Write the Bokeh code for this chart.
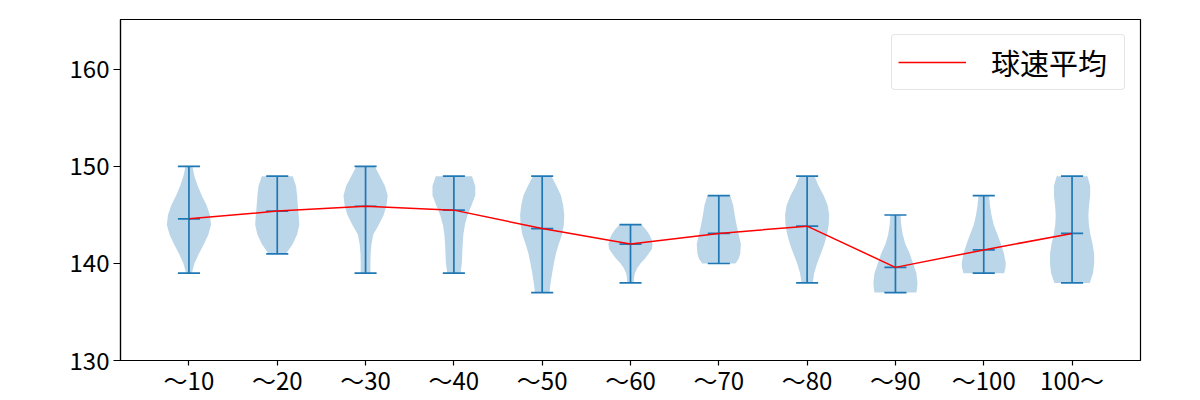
from bokeh.plotting import figure
from bokeh.models import Range1d, FixedTicker, Legend, LegendItem
from bokeh.embed import file_html
from bokeh.resources import INLINE

# ---- data ----
categories = ["〜10", "〜20", "〜30", "〜40", "〜50", "〜60", "〜70", "〜80", "〜90", "〜100", "100〜"]
v_min = [139, 141, 139, 139, 137, 138, 140, 138, 137, 139, 138]
v_max = [150, 149, 150, 149, 149, 144, 147, 149, 145, 147, 149]
v_mean = [144.6, 145.4, 145.9, 145.5, 143.6, 142.0, 143.1, 143.85, 139.6, 141.4, 143.1]
legend_label = "球速平均"

# violin outlines: speed levels and relative density (1 = widest point of that violin)
prof_speed = [
    [139, 140, 141, 142, 143, 144, 145, 146, 147, 148, 149, 150],
    [141, 142, 143, 144, 145, 146, 147, 148, 149],
    [139, 140, 141, 142, 143, 144, 145, 146, 147, 148, 149, 150],
    [139, 140, 141, 142, 143, 144, 145, 146, 147, 148, 149],
    [137, 138, 139, 140, 141, 142, 143, 144, 145, 146, 147, 148, 149],
    [138, 138.5, 139, 139.5, 140, 140.5, 141, 141.5, 142, 142.5, 143, 143.5, 144],
    [140, 140.5, 141, 142, 143, 144, 145, 146, 147],
    [138, 139, 140, 141, 142, 143, 144, 145, 146, 147, 148, 149],
    [137, 137.5, 138, 139, 140, 141, 142, 143, 144, 145],
    [139, 139.5, 140, 141, 142, 143, 144, 145, 146, 147],
    [138, 139, 140, 141, 142, 143, 144, 145, 146, 147, 148, 149],
]
prof_density = [
    [0.13, 0.25, 0.45, 0.68, 0.88, 1.0, 0.95, 0.8, 0.58, 0.4, 0.25, 0.16],
    [0.4, 0.7, 0.9, 1.0, 0.97, 0.93, 0.9, 0.85, 0.7],
    [0.22, 0.22, 0.23, 0.27, 0.35, 0.6, 0.82, 0.95, 1.0, 0.88, 0.65, 0.42],
    [0.3, 0.36, 0.38, 0.4, 0.43, 0.5, 0.62, 0.8, 0.97, 0.97, 0.82],
    [0.33, 0.38, 0.45, 0.53, 0.62, 0.75, 0.9, 0.98, 1.0, 0.95, 0.85, 0.65, 0.42],
    [0.15, 0.16, 0.2, 0.3, 0.45, 0.65, 0.82, 0.97, 1.0, 0.95, 0.85, 0.7, 0.5],
    [0.75, 0.9, 0.97, 1.0, 0.9, 0.8, 0.72, 0.65, 0.52],
    [0.25, 0.32, 0.45, 0.62, 0.78, 0.9, 0.98, 1.0, 0.93, 0.75, 0.52, 0.34],
    [0.95, 0.98, 1.0, 0.95, 0.8, 0.65, 0.45, 0.33, 0.26, 0.23],
    [0.92, 0.98, 1.0, 0.92, 0.78, 0.62, 0.45, 0.35, 0.28, 0.24],
    [0.8, 0.95, 1.0, 1.0, 0.93, 0.83, 0.76, 0.74, 0.77, 0.82, 0.82, 0.7],
]

# ---- styling ----
FONT = "Noto Sans CJK JP"
BLUE = "#1f77b4"
HALF_W = 0.25   # max half-width of a violin (x units)
CAP = 0.125     # half-length of caps

positions = list(range(1, len(categories) + 1))

p = figure(width=1200, height=400, output_backend="svg", toolbar_location=None,
           x_range=Range1d(0.225, 11.775), y_range=Range1d(130, 165.15),
           min_border_left=120, min_border_right=60, min_border_top=19, min_border_bottom=40)
p.background_fill_color = "white"
p.border_fill_color = "white"
p.outline_line_color = "black"
p.outline_line_width = 1.2
p.xgrid.visible = False
p.ygrid.visible = False

# violins
xs, ys = [], []
for pos, sp, de in zip(positions, prof_speed, prof_density):
    left = [pos - HALF_W * d for d in de]
    right = [pos + HALF_W * d for d in de]
    xs.append(left + right[::-1])
    ys.append(sp + sp[::-1])
p.patches(xs, ys, fill_color=BLUE, fill_alpha=0.3, line_color=None)

# stems and caps
p.segment(x0=positions, y0=v_min, x1=positions, y1=v_max, line_color=BLUE, line_width=1.7)
for arr in (v_min, v_max, v_mean):
    p.segment(x0=[x - CAP for x in positions], y0=arr, x1=[x + CAP for x in positions], y1=arr,
              line_color=BLUE, line_width=1.7)

# mean line
mean_r = p.line(positions, v_mean, line_color="red", line_width=1.5)

legend = Legend(items=[LegendItem(label=legend_label, renderers=[mean_r])], location="top_right")
legend.label_text_font = FONT
legend.label_text_font_size = "29px"
legend.label_text_color = "black"
legend.glyph_width = 68
legend.glyph_height = 26
legend.label_height = 26
legend.label_width = 127
legend.label_standoff = 25
legend.padding = 6
legend.margin = 15
legend.border_line_color = "#cccccc"
legend.border_line_width = 1
legend.background_fill_color = "white"
legend.background_fill_alpha = 0.8
try:
    legend.border_radius = 4
except Exception:
    pass
p.add_layout(legend)

# axes
p.xaxis.ticker = FixedTicker(ticks=positions)
p.xaxis.major_label_overrides = {pos: lab for pos, lab in zip(positions, categories)}
p.yaxis.ticker = FixedTicker(ticks=[130, 140, 150, 160])
for ax in (p.xaxis, p.yaxis):
    ax.major_label_text_font = FONT
    ax.major_label_text_font_size = "24px"
    ax.major_label_text_color = "black"
    ax.axis_line_color = "black"
    ax.axis_line_width = 1.2
    ax.major_tick_line_color = "black"
    ax.major_tick_line_width = 1.2
    ax.major_tick_in = 0
    ax.minor_tick_line_color = None
p.yaxis.major_tick_out = 7
p.yaxis.major_label_standoff = 4
p.xaxis.major_tick_out = 5
p.xaxis.major_label_standoff = -4

open("out.html", "w").write(file_html(p, INLINE))
